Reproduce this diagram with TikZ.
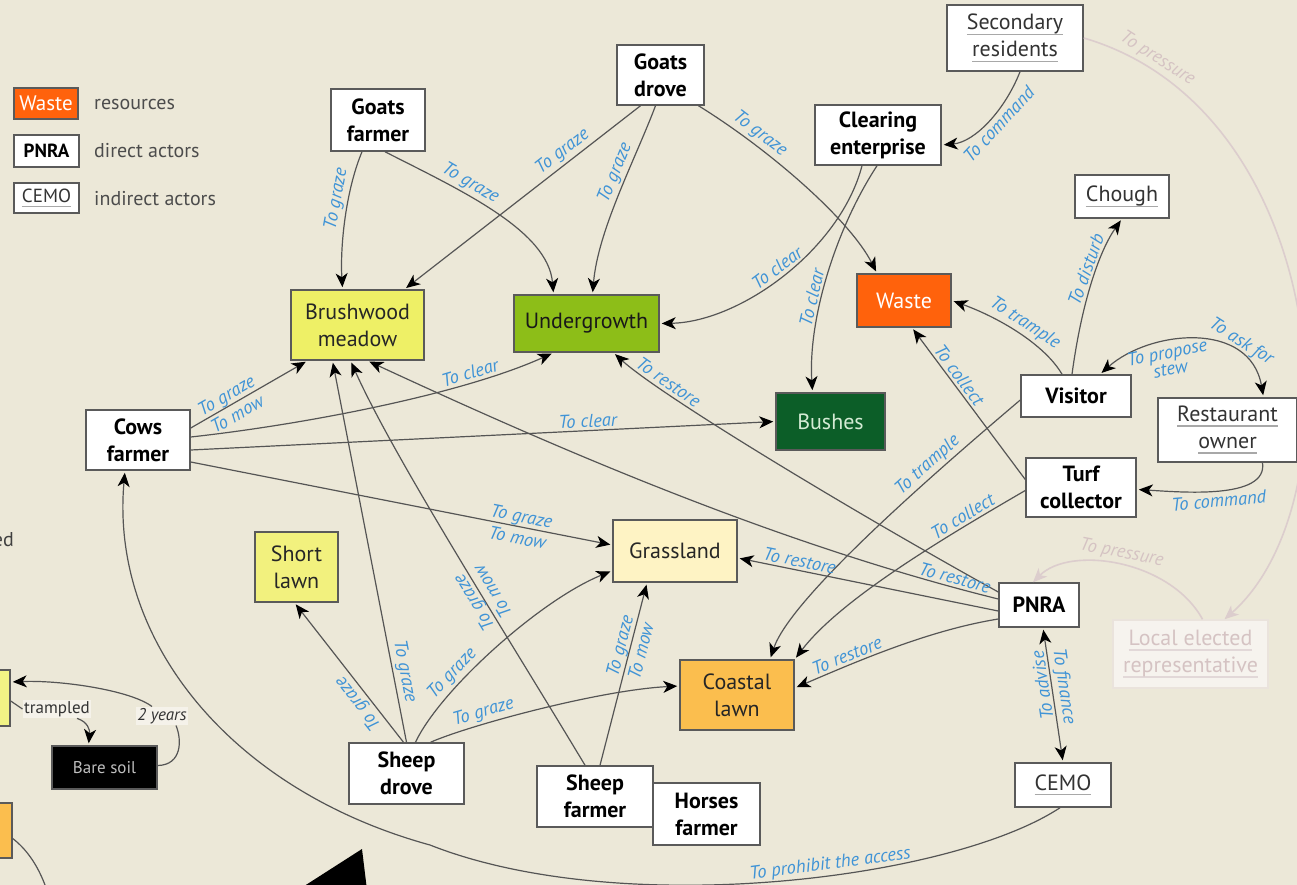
\documentclass[tikz,border=0pt]{standalone}
\usepackage{fontspec}
\setmainfont{PT Sans}
\usetikzlibrary{arrows.meta,calc}

\definecolor{paper}{HTML}{ECE8D8}
\definecolor{edgegray}{HTML}{555555}
\definecolor{boxline}{HTML}{5A5A5A}
\definecolor{verbblue}{HTML}{3F93D6}
\definecolor{brushwood}{HTML}{EEF066}
\definecolor{shortlawn}{HTML}{F2F17E}
\definecolor{undergrowth}{HTML}{8DBE18}
\definecolor{wastecol}{HTML}{FF620C}
\definecolor{bushcol}{HTML}{0C5E28}
\definecolor{bushtext}{HTML}{D4EBD4}
\definecolor{grasscol}{HTML}{FEF3C4}
\definecolor{coastcol}{HTML}{FBBE4E}
\definecolor{ulgray}{HTML}{A8A8A8}
\definecolor{fadeline}{HTML}{DCCDCD}
\definecolor{fadetext}{HTML}{D5C3C3}
\definecolor{fadefill}{HTML}{F6F3EE}
\definecolor{fadeedge}{HTML}{EAE3DC}
\definecolor{fadeul}{HTML}{E2D8D8}

% underlined word, used for indirect actors
\newcommand\undl[2][ulgray]{\setbox0=\hbox{#2}\rlap{\textcolor{#1}{\rule[-5pt]{\wd0}{1.3pt}}}\box0}

\tikzset{
  wh/.style 2 args={minimum width=#1, minimum height=#2},
  box/.style={draw=boxline, line width=1.5pt, inner sep=0pt, align=center},
  resource/.style={box, font=\fontsize{22}{27}\selectfont},
  direct/.style={box, fill=white, font=\bfseries\fontsize{22}{27}\selectfont},
  indirect/.style={box, fill=white, text=black!80, font=\fontsize{22}{27}\selectfont},
  verb/.style={font=\itshape\fontsize{18.5}{21}\selectfont, text=verbblue, inner sep=2.5pt},
  keytext/.style={anchor=west, text=black!70, font=\fontsize{20}{24}\selectfont, inner sep=0pt},
  note/.style={fill=paper!55!white, inner sep=1.5pt, text=black!80, font=\fontsize{17}{20}\selectfont},
  link/.style={draw=edgegray, line width=1.2pt, ->, shorten >=2pt},
  link2/.style={draw=edgegray, line width=1.2pt, <->, shorten >=2pt, shorten <=2pt},
  fadelink/.style={draw=fadeline, line width=1.6pt, -{Stealth[length=14pt,width=12pt,inset=4pt,fadeline]}},
  fadeverb/.style={font=\itshape\fontsize{18.5}{21}\selectfont, text=fadetext, inner sep=2.5pt},
}

\begin{document}
\begin{tikzpicture}[x=1pt,y=-1pt,>={Stealth[length=14pt,width=12pt,inset=4pt,black]}]
\useasboundingbox (0,0) rectangle (1297,885);
\clip (0,0) rectangle (1297,885);
\fill[paper] (0,0) rectangle (1297,885);

% ---------- key ----------
\node[resource, fill=wastecol, text=white, wh={64}{31}, font=\fontsize{21}{24}\selectfont] (kw) at (46,103.5) {Waste};
\node[direct, wh={65}{32}, font=\bfseries\fontsize{19}{22}\selectfont] (kp) at (46.5,151) {PNRA};
\node[indirect, wh={65}{30}, font=\fontsize{19}{22}\selectfont] (kc) at (46.5,198) {\undl{CEMO}};
\node[keytext] (kwt) at (94,105) {resources};
\node[keytext] (kpt) at (94,151) {direct actors};
\node[keytext] (kct) at (94,199) {indirect actors};

% ---------- faded relations ----------
\node[box, draw=fadeedge, fill=fadefill, text=fadetext, font=\fontsize{22}{27}\selectfont, wh={155}{68}] (le) at (1190.5,654)
  {\undl[fadeul]{Local elected}\\\undl[fadeul]{representative}};

% ---------- actors and resources ----------
\node[direct, wh={87}{60}] (gd) at (660.5,75) {Goats\\drove};
\node[direct, wh={94}{62}] (gf) at (378,120) {Goats\\farmer};
\node[indirect, wh={136}{66}] (sr) at (1015,38) {\undl{Secondary}\\\undl{residents}};
\node[direct, wh={126}{60}] (ce) at (878,135) {Clearing\\enterprise};
\node[indirect, wh={94}{43}] (ch) at (1122,196.5) {\undl{Chough}};
\node[resource, fill=brushwood, text=black!85, wh={133}{70}] (bm) at (357.5,325) {Brushwood\\meadow};
\node[resource, fill=undergrowth, text=black!90, wh={145}{57}] (ug) at (586.5,323.5) {Undergrowth};
\node[resource, fill=wastecol, text=white, wh={94}{53}] (wa) at (904,300.5) {Waste};
\node[resource, fill=bushcol, text=bushtext, wh={109}{57}] (bu) at (830.5,421.5) {Bushes};
\node[direct, wh={110}{42}] (vi) at (1076,396) {Visitor};
\node[indirect, wh={139}{64}] (ro) at (1227.5,430) {\undl{Restaurant}\\\undl{owner}};
\node[direct, wh={104}{60}] (cf) at (138,440) {Cows\\farmer};
\node[direct, wh={110}{59}] (tc) at (1081,487.5) {Turf\\collector};
\node[resource, fill=shortlawn, text=black!85, wh={83}{70}] (sl) at (296.5,567) {Short\\lawn};
\node[resource, fill=grasscol, text=black!85, wh={124}{62}] (gl) at (675,551) {Grassland};
\node[direct, wh={80}{44}] (pn) at (1039,605) {PNRA};
\node[resource, fill=coastcol, text=black!85, wh={114}{70}] (cl) at (737,695) {Coastal\\lawn};
\node[direct, wh={115}{61}] (sd) at (406.5,773.5) {Sheep\\drove};
\node[direct, wh={107}{62}] (hf) at (706.5,814) {Horses\\farmer};
\node[direct, wh={116}{61}] (sf) at (595,796.5) {Sheep\\farmer};
\node[indirect, wh={96}{44}] (cm) at (1063,785) {\undl{CEMO}};

% ---------- soil dynamics (left) ----------
\node[resource, fill=brushwood!80!white, wh={70}{56}] (ly) at (-25,698) {};
\node[resource, fill=coastcol, wh={74}{55}] (lo) at (-25,830.5) {};
\node[resource, fill=black, text=black!25, wh={105}{43}, font=\fontsize{17}{20}\selectfont] (bs) at (104.5,767.5) {Bare soil};
\node[note] (tr) at (57,709) {trampled};
\node[note, font=\itshape\fontsize{17}{20}\selectfont] (yr) at (162,716) {2 years};
\node[anchor=east, inner sep=0pt, text=black!75, font=\fontsize{20}{24}\selectfont] (edw) at (14,540) {ed};
\coordinate (loout) at (50,900);

\draw[draw=edgegray, line width=1.2pt] ($(ly.east)+(0,3)$) -- (tr.west);
\draw[link] ($(tr.south)+(20,0)$) .. controls (88,722) and (90,730) .. ($(bs.north)+(-16,0)$);
\draw[draw=edgegray, line width=1.2pt] ($(bs.east)+(0,-2)$) .. controls (182,765) and (182,740) .. ($(yr.south)+(14,0)$);
\draw[link] ($(yr.north)+(-10,0)$) .. controls (130,690) and (60,680) .. ($(ly.east)+(0,-16)$);
\draw[draw=edgegray, line width=1.2pt] ($(lo.east)+(0,8)$) .. controls (30,852) and (42,872) .. (loout);

% ---------- faded relations ----------
\draw[fadelink] (sr.east) .. controls (1330,110) and (1360,500) .. ($(le.north)+(34,0)$)
  node[fadeverb, pos=0.1, sloped, above] {To pressure};
\draw[fadelink] ($(le.north)+(12,0)$) .. controls (1170,560) and (1070,545) .. ($(pn.north)+(-6,0)$)
  node[fadeverb, pos=0.5, sloped, above] {To pressure};

% ---------- goats ----------
\draw[link] ($(gf.south)+(-16,0)$) .. controls (346,190) and (340,245) .. ($(bm.north)+(-15,0)$)
  node[verb, pos=0.38, sloped, above] {To graze};
\draw[link] ($(gf.south)+(7,0)$) .. controls (460,190) and (548,230) .. ($(ug.north)+(-33,0)$)
  node[verb, pos=0.35, sloped, above] {To graze};
\draw[link] ($(gd.south)+(-20,0)$) -- ($(bm.north)+(47,0)$)
  node[verb, pos=0.3, sloped, above] {To graze};
\draw[link] ($(gd.south)+(-5,0)$) .. controls (635,160) and (598,230) .. ($(ug.north)+(6,0)$)
  node[verb, pos=0.4, sloped, above] {To graze};
\draw[link] ($(gd.south)+(38,0)$) .. controls (770,150) and (850,220) .. ($(wa.north)+(-27,0)$)
  node[verb, pos=0.25, sloped, above] {To graze};

% ---------- clearing ----------
\draw[link] ($(sr.south)+(5,0)$) .. controls (1005,110) and (975,142) .. ($(ce.east)+(0,10)$)
  node[verb, pos=0.45, sloped, below] {To command};
\draw[link] ($(ce.south)+(-16,0)$) .. controls (840,250) and (740,322) .. (ug.east)
  node[verb, pos=0.5, sloped, above] {To clear};
\draw[link] ($(ce.south)+(-1,0)$) .. controls (835,230) and (808,320) .. ($(bu.north)+(-18,0)$)
  node[verb, pos=0.6, sloped, above] {To clear};

% ---------- visitor, restaurant, turf ----------
\draw[link] ($(vi.north)+(-14,0)$) .. controls (1045,345) and (1000,318) .. (wa.east)
  node[verb, pos=0.5, sloped, above] {To trample};
\draw[link] ($(vi.north)+(-4,0)$) .. controls (1082,300) and (1100,250) .. (ch.south)
  node[verb, pos=0.55, sloped, above] {To disturb};
\draw[link2] ($(vi.north)+(24,0)$) .. controls (1150,330) and (1250,320) .. ($(ro.north)+(36,0)$)
  node[verb, pos=0.72, sloped, above] {To ask for}
  node[verb, pos=0.35, sloped, below, align=center, font=\itshape\fontsize{18.5}{17}\selectfont] {To propose\\stew};
\draw[link] ($(ro.south)+(35,0)$) .. controls (1268,500) and (1180,492) .. ($(tc.east)+(0,2)$)
  node[verb, pos=0.5, sloped, below] {To command};
\draw[link] ($(tc.west)+(0,-8)$) -- ($(wa.south)+(8,0)$)
  node[verb, pos=0.65, sloped, above] {To collect};
\draw[link] ($(vi.west)+(0,4)$) .. controls (920,485) and (790,600) .. ($(cl.north)+(33,0)$)
  node[verb, pos=0.27, sloped, above] {To trample};
\draw[link] ($(tc.west)+(0,3)$) .. controls (940,540) and (840,600) .. ($(cl.north east)+(0,0)$)
  node[verb, pos=0.22, sloped, above] {To collect};

% ---------- PNRA ----------
\draw[link] ($(pn.west)+(0,-13)$) .. controls (850,510) and (660,395) .. ($(ug.south)+(27,0)$)
  node[verb, pos=0.78, sloped, above] {To restore};
\draw[link] ($(pn.west)+(0,-6)$) .. controls (780,545) and (560,450) .. ($(bm.south)+(10,0)$)
  node[verb, pos=0.07, sloped, above] {To restore};
\draw[link] ($(pn.west)+(0,6)$) -- ($(gl.east)+(0,7)$)
  node[verb, pos=0.77, sloped, above] {To restore};
\draw[link] ($(pn.west)+(0,14)$) .. controls (930,630) and (860,660) .. ($(cl.east)+(0,-7)$)
  node[verb, pos=0.72, sloped, above] {To restore};
\draw[link2] ($(pn.south)+(4,0)$) -- (cm.north)
  node[verb, pos=0.45, sloped, allow upside down, above] {To finance};
% same pair, walked upwards, so the advice reads bottom to top
\path (cm.north) -- ($(pn.south)+(4,0)$)
  node[verb, pos=0.58, sloped, allow upside down, above] {To advise};
\draw[link] ($(cm.south)+(-3,0)$) .. controls (950,880) and (620,920) .. (430,845)
  node[verb, pos=0.42, sloped, above] {To prohibit the access}
  .. controls (230,790) and (110,640) .. ($(cf.south)+(-13,0)$);

% ---------- cows farmer ----------
\draw[link] ($(cf.east)+(0,-12)$) -- ($(bm.south)+(-50,0)$)
  node[verb, pos=0.35, sloped, align=center, font=\itshape\fontsize{18.5}{22}\selectfont] {To graze\\To mow};
\draw[link] ($(cf.east)+(0,-3)$) .. controls (300,425) and (460,395) .. ($(ug.south)+(-33,0)$)
  node[verb, pos=0.75, sloped, above] {To clear};
\draw[link] ($(cf.east)+(0,10)$) -- (bu.west)
  node[verb, pos=0.68, sloped, above] {To clear};
\draw[link] ($(cf.east)+(0,22)$) -- ($(gl.west)+(0,-6)$)
  node[verb, pos=0.78, sloped, align=center, font=\itshape\fontsize{18.5}{22}\selectfont] {To graze\\To mow};

% ---------- sheep ----------
\draw[link] ($(sd.north)+(-3,0)$) -- ($(sl.south)+(-2,0)$)
  node[verb, pos=0.33, sloped, allow upside down, above] {To graze};
\draw[link] (sd.north) -- ($(bm.south)+(-25,0)$)
  node[verb, pos=0.18, sloped, above] {To graze};
\draw[link] ($(sd.north)+(9,0)$) .. controls (440,690) and (540,600) .. ($(gl.south west)+(0,-12)$)
  node[verb, pos=0.33, sloped, above] {To graze};
\draw[link] ($(sd.north)+(24,0)$) .. controls (470,725) and (600,690) .. ($(cl.west)+(0,-9)$)
  node[verb, pos=0.3, sloped, above] {To graze};
\draw[link] ($(sf.north)+(-10,0)$) .. controls (510,640) and (395,460) .. ($(bm.south)+(-7,0)$)
  node[verb, pos=0.4, sloped, allow upside down, align=center, font=\itshape\fontsize{18.5}{22}\selectfont] {To graze\\To mow};
\draw[link] ($(sf.north)+(5,0)$) -- ($(gl.south)+(-28,0)$)
  node[verb, pos=0.64, sloped, align=center, font=\itshape\fontsize{18.5}{22}\selectfont] {To graze\\To mow};

% pointer tip at the lower edge
\fill[black] (298,890) -- (362,849) -- (367,890) -- cycle;
\end{tikzpicture}
\end{document}
